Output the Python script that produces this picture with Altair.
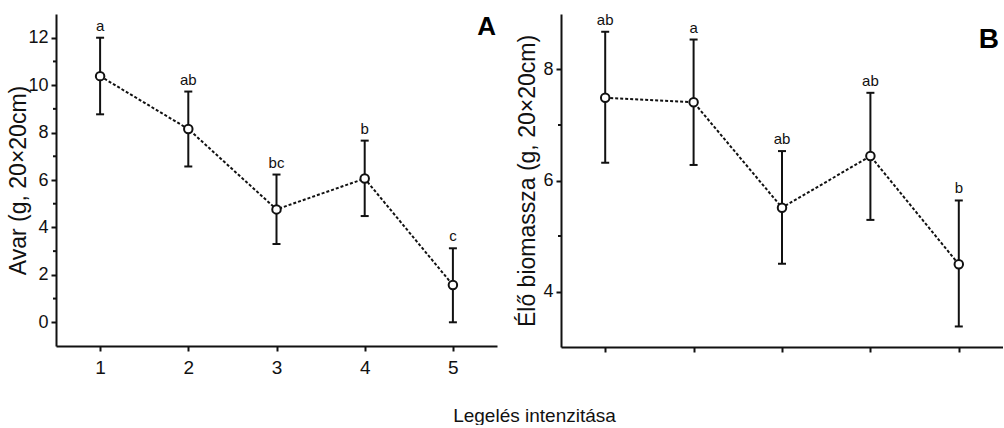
import altair as alt
import pandas as pd

# Grazing intensity levels (shared x positions of both panels)
levels = [1, 2, 3, 4, 5]
x_domain = [0.5, 5.5]

# Panel A: litter (Avar) mean with error bar limits and significance letters
avar_mean = [10.38, 8.15, 4.76, 6.06, 1.57]
avar_low = [8.77, 6.57, 3.30, 4.48, 0.0]
avar_high = [12.0, 9.73, 6.23, 7.66, 3.12]
avar_sig = ["a", "ab", "bc", "b", "c"]
avar_domain = [-1, 13]
avar_major = [0, 2, 4, 6, 8, 10, 12]
avar_minor = [1, 3, 5, 7, 9, 11]

# Panel B: live biomass (Élő biomassza)
elo_mean = [7.49, 7.41, 5.51, 6.44, 4.49]
elo_low = [6.32, 6.28, 4.50, 5.29, 3.37]
elo_high = [8.68, 8.54, 6.53, 7.58, 5.64]
elo_sig = ["ab", "a", "ab", "ab", "b"]
elo_domain = [3, 9]
elo_major = [4, 6, 8]
elo_minor = [5, 7]

FONT = "Liberation Sans, Arial, sans-serif"
INK = "#111111"
LW = 2


def panel(mean, low, high, sig, y_domain, y_major, y_minor, y_title, tag,
          width, height, show_x_labels, title_x, tag_dx, tag_dy, tag_size):
    df = pd.DataFrame({"x": levels, "m": mean, "lo": low, "hi": high, "sig": sig})
    xs = alt.Scale(domain=x_domain, nice=False, zero=False)
    ys = alt.Scale(domain=y_domain, nice=False, zero=False)

    x_kw = dict(values=levels, tickSize=5, labelFont=FONT, labelFontSize=19,
                labelPadding=7, grid=False, format="d")
    if show_x_labels:
        x_kw.update(title="Legelés intenzitása", titleFont=FONT, titleFontSize=19,
                    titleFontWeight="normal", titleX=478, titleY=60,
                    titleAlign="center", titleBaseline="top")
    else:
        x_kw.update(labels=False, title="")
    x_axis = alt.Axis(**x_kw)
    y_axis = alt.Axis(values=y_major, tickSize=5, labelFont=FONT, labelFontSize=18,
                      labelPadding=3, grid=False, format="d",
                      title=y_title, titleFont=FONT, titleFontSize=23,
                      titleFontWeight="normal", titleAngle=270, titleX=title_x,
                      titleY=height / 2, titleAlign="center", titleBaseline="middle")

    X = alt.X("x:Q", scale=xs, axis=x_axis)

    def Y(field):
        return alt.Y(field, scale=ys, axis=y_axis)

    base = alt.Chart(df)
    line = base.mark_line(color=INK, strokeWidth=LW, strokeDash=[3, 2]).encode(x=X, y=Y("m:Q"))
    bars = base.mark_rule(color=INK, strokeWidth=LW).encode(x=X, y=Y("lo:Q"), y2="hi:Q")
    cap_hi = base.mark_tick(color=INK, orient="horizontal", size=8, thickness=LW,
                            opacity=1).encode(x=X, y=Y("hi:Q"))
    cap_lo = base.mark_tick(color=INK, orient="horizontal", size=8, thickness=LW,
                            opacity=1).encode(x=X, y=Y("lo:Q"))
    pts = base.mark_point(shape="circle", size=72, filled=True, fill="white",
                          stroke=INK, strokeWidth=LW, opacity=1).encode(x=X, y=Y("m:Q"))
    letters = base.mark_text(font=FONT, fontSize=15, color=INK, baseline="alphabetic",
                             dy=-7).encode(x=X, y=Y("hi:Q"), text="sig:N")

    minor_df = pd.DataFrame({"v": y_minor})
    minor = alt.Chart(minor_df).mark_rule(color=INK, strokeWidth=LW).encode(
        y=Y("v:Q"), x=alt.value(-3), x2=alt.value(0))

    tag_df = pd.DataFrame({"x": [x_domain[1]], "y": [y_domain[1]], "t": [tag]})
    tag_txt = alt.Chart(tag_df).mark_text(font=FONT, fontSize=tag_size, fontWeight="bold",
                                          color="black", align="right", baseline="top",
                                          dx=tag_dx, dy=tag_dy).encode(
        x=X, y=Y("y:Q"), text="t:N")

    return alt.layer(line, bars, cap_hi, cap_lo, pts, letters, minor, tag_txt).properties(
        width=width, height=height)


chart_a = panel(avar_mean, avar_low, avar_high, avar_sig, avar_domain, avar_major,
                avar_minor, "Avar (g, 20×20cm)", "A", 441, 332, True, -38, -1, 0, 26)
chart_b = panel(elo_mean, elo_low, elo_high, elo_sig, elo_domain, elo_major,
                elo_minor, "Élő biomassza (g, 20×20cm)", "B", 442, 333, False, -34, -4, 12, 28)

chart = alt.hconcat(chart_a, chart_b, spacing=64, bounds="flush").properties(
    padding={"left": 7, "top": 12, "right": 0, "bottom": 0},
    background="white",
).configure_axis(
    domainColor=INK, domainWidth=LW, tickColor=INK, tickWidth=LW,
    labelColor=INK, titleColor=INK,
).configure_view(stroke=None)

chart.save("out.html", embed_options={"renderer": "svg", "actions": False})
